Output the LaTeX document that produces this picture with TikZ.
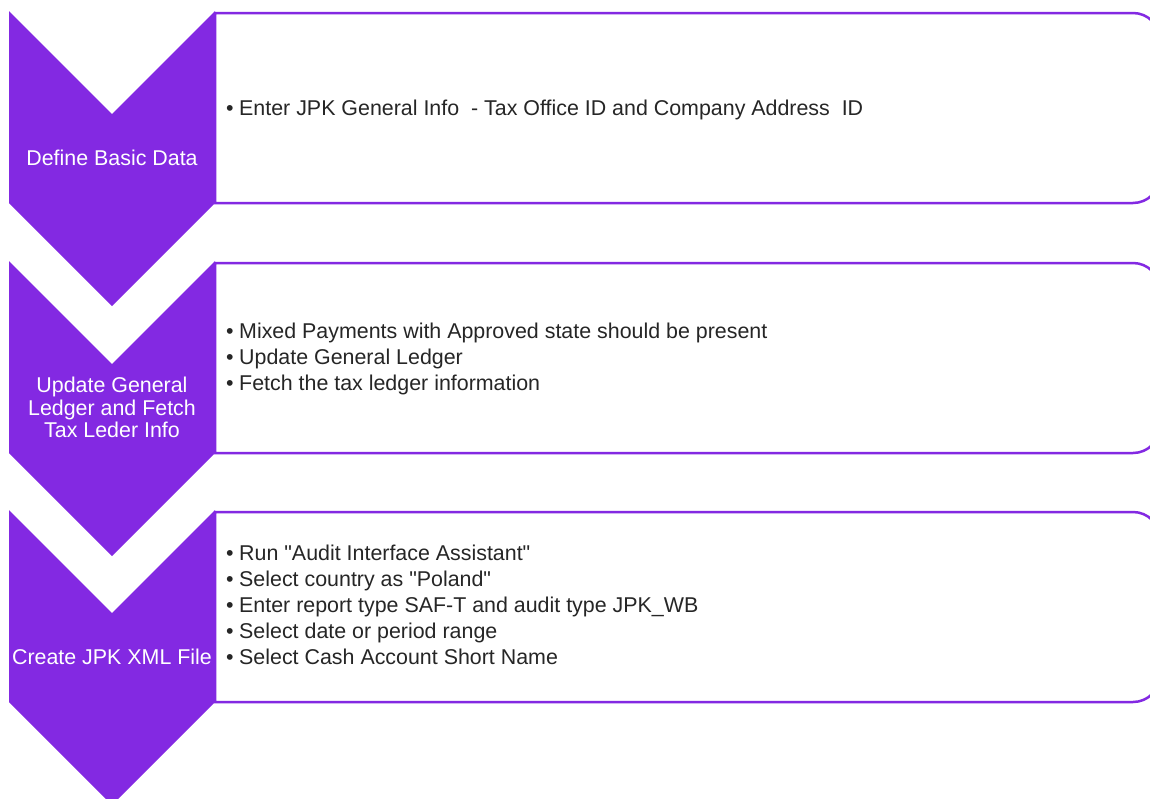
\documentclass[tikz,border=0pt]{standalone}
\usepackage{fontspec}
\setmainfont{Liberation Sans}[Ligatures=TeXOff]
\definecolor{jpkpurple}{HTML}{8329E2}
\definecolor{jpktext}{HTML}{262626}
\begin{document}
\begin{tikzpicture}[x=1pt,y=-1pt,
  chev/.style={fill=jpkpurple,draw=none},
  panel/.style={draw=jpkpurple,line width=2.5pt,fill=white},
  steplabel/.style={text=white,font=\fontsize{21.4}{22.5}\selectfont,align=center,inner sep=0pt},
  item/.style={text=jpktext,font=\fontsize{21.4}{26}\selectfont,anchor=base west,inner sep=0pt}]
\newcommand{\bul}[1]{\makebox[13pt][l]{•}#1}
\useasboundingbox (0,0) rectangle (1150,798);
% panels
\foreach \t/\b in {13/203,263/453,512/702}{
  \draw[panel] (215,\t) -- (1133,\t) arc[start angle=-90,end angle=0,radius=27]
    -- (1160,\b-27) arc[start angle=0,end angle=90,radius=27] -- (215,\b) -- cycle;
}
% chevrons
\foreach \t in {11,261,510}{
  \fill[chev] (9,\t) -- (112,\t+103) -- (215,\t) -- (215,\t+192) -- (112,\t+295) -- (9,\t+192) -- cycle;
}
% step labels
\node[steplabel] (s1) at (112,158) {Define Basic Data};
\node[steplabel] (s2) at (112,407.5) {Update General\\Ledger and Fetch\\Tax Leder Info};
\node[steplabel] (s3) at (112,657) {Create JPK XML File};
% items
\node[item] (a1) at (226,115) {\bul{Enter JPK General Info\ \ - Tax Office ID and Company Address\ \ ID}};
\node[item] (b1) at (226,338) {\bul{Mixed Payments with Approved state should be present}};
\node[item] (b2) at (226,364) {\bul{Update General Ledger}};
\node[item] (b3) at (226,390) {\bul{Fetch the tax ledger information}};
\node[item] (c1) at (226,560) {\bul{Run "Audit Interface Assistant"}};
\node[item] (c2) at (226,586) {\bul{Select country as "Poland"}};
\node[item] (c3) at (226,612) {\bul{Enter report type SAF-T and audit type JPK\_WB}};
\node[item] (c4) at (226,638) {\bul{Select date or period range}};
\node[item] (c5) at (226,664) {\bul{Select Cash Account Short Name}};
\end{tikzpicture}
\end{document}
